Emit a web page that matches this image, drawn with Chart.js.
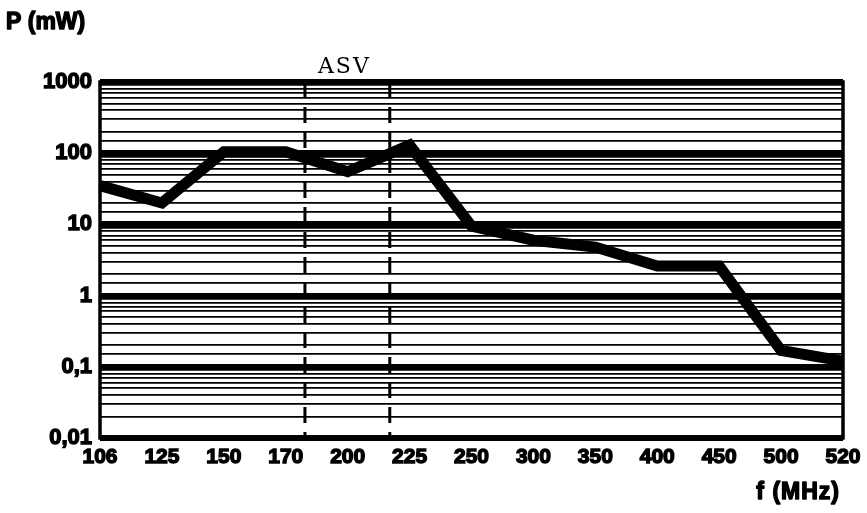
<!DOCTYPE html>
<html>
<head>
<meta charset="utf-8">
<script src="https://cdn.jsdelivr.net/npm/chart.js@4"></script>
<style>
html,body{margin:0;padding:0;background:#fff;}
#wrap{width:867px;height:513px;}
</style>
</head>
<body>
<div id="wrap"><canvas id="c" width="867" height="513"></canvas></div>
<script>
// Data
const frequencies = ['106','125','150','170','200','225','250','300','350','400','450','500','520'];
const powerMW = [35, 20, 105, 105, 55, 130, 9.5, 6, 4.8, 2.6, 2.6, 0.17, 0.12];
const decadeLabels = ['0,01','0,1','1','10','100','1000'];
const asvBounds = [3.31, 4.68]; // positions of the dashed ASV limits on the category axis
const texts = {yTitle: 'P (mW)', xTitle: 'f (MHz)', band: 'ASV'};

const xTickFont = {family: '"Liberation Sans", Arial, sans-serif', size: 21, weight: 'bold'};
const yTickFont = {family: '"Liberation Sans", Arial, sans-serif', size: 22, weight: 'bold'};

function decadeIndex(v) {
  const l = Math.log10(v);
  const r = Math.round(l);
  return Math.abs(l - r) < 1e-6 ? r : null;
}

const overlay = {
  id: 'overlay',
  afterDatasetsDraw(chart) {
    const {ctx, chartArea: a, scales: {x}} = chart;
    ctx.save();
    // dashed ASV boundaries
    ctx.strokeStyle = '#000';
    ctx.lineWidth = 3;
    ctx.setLineDash([16, 9]);
    asvBounds.forEach(b => {
      const px = x.getPixelForValue(b);
      ctx.beginPath();
      ctx.moveTo(px, a.top);
      ctx.lineTo(px, a.bottom);
      ctx.stroke();
    });
    ctx.setLineDash([]);
    // frame
    ctx.lineWidth = 3.5;
    ctx.strokeRect(a.left, a.top, a.right - a.left, a.bottom - a.top);
    // texts
    ctx.fillStyle = '#000';
    ctx.strokeStyle = '#000';
    ctx.lineWidth = 1.4;
    ctx.lineJoin = 'round';
    ctx.textBaseline = 'middle';
    ctx.font = 'bold 23px "Liberation Sans", Arial, sans-serif';
    ctx.textAlign = 'left';
    ctx.fillText(texts.yTitle, 6, 23);
    ctx.strokeText(texts.yTitle, 6, 23);
    ctx.textAlign = 'right';
    try { ctx.letterSpacing = '1px'; } catch (e) {}
    ctx.fillText(texts.xTitle, 840, 493);
    ctx.strokeText(texts.xTitle, 840, 493);
    try { ctx.letterSpacing = '2px'; } catch (e) {}
    ctx.font = '22px "DejaVu Serif", serif';
    ctx.textAlign = 'center';
    const mid = (x.getPixelForValue(asvBounds[0]) + x.getPixelForValue(asvBounds[1])) / 2;
    ctx.fillText(texts.band, mid - 3, 67);
    ctx.restore();
  }
};

new Chart(document.getElementById('c'), {
  type: 'line',
  data: {
    labels: frequencies,
    datasets: [{
      data: powerMW,
      borderColor: '#000',
      borderWidth: 11,
      pointRadius: 0,
      tension: 0,
      fill: false,
      borderJoinStyle: 'miter',
      borderCapStyle: 'butt'
    }]
  },
  options: {
    responsive: false,
    animation: false,
    devicePixelRatio: 1,
    layout: {padding: {top: 82, right: 24, bottom: 0, left: 0}},
    plugins: {legend: {display: false}, tooltip: {enabled: false}},
    scales: {
      x: {
        type: 'category',
        offset: false,
        grid: {display: false, drawTicks: false},
        border: {display: false},
        ticks: {color: '#000', font: xTickFont, maxRotation: 0, autoSkip: false, padding: 7,
                textStrokeColor: '#000', textStrokeWidth: 1.4},
        afterFit(s) { s.height = 75; s.paddingLeft = 0; s.paddingRight = 0; }
      },
      y: {
        type: 'logarithmic',
        min: 0.01,
        max: 1000,
        border: {display: false},
        grid: {
          color: '#000',
          drawTicks: false,
          lineWidth(ctx) {
            return decadeIndex(ctx.tick.value) !== null ? 6 : 1.8;
          }
        },
        ticks: {
          color: '#000',
          font: yTickFont,
          autoSkip: false,
          padding: 8,
          textStrokeColor: '#000',
          textStrokeWidth: 1.4,
          callback(v) {
            const d = decadeIndex(v);
            return d === null ? '' : decadeLabels[d + 2];
          }
        },
        afterFit(s) { s.width = 100; s.paddingTop = 0; s.paddingBottom = 0; }
      }
    }
  },
  plugins: [overlay]
});
</script>
</body>
</html>
